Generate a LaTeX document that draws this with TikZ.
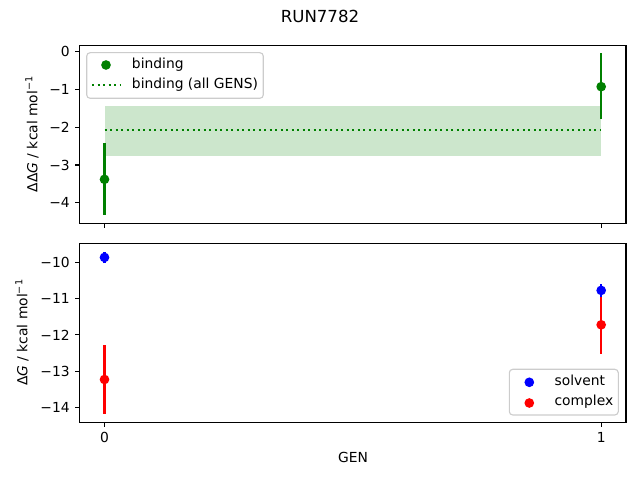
\documentclass[tikz,border=0pt]{standalone}
\usepackage{fontspec}
\setmainfont{DejaVu Sans}
\definecolor{mplgreen}{RGB}{0, 128, 0}
\definecolor{mplblue}{RGB}{0, 0, 255}
\definecolor{mplred}{RGB}{255, 0, 0}
\definecolor{legendedge}{RGB}{204, 204, 204}
\usepackage{tikz}

\begin{document}
\begin{tikzpicture}[x=0.01in, y=-0.01in, font=\fontsize{10}{12}\selectfont,
  errbar/.style={line width=1.5pt},
  tickmark/.style={line width=0.8pt},
  ticklab/.style={inner sep=0pt},
  dot/.style={radius=3.5pt},
  legendbox/.style={draw=legendedge, line width=0.8pt, fill=white, fill opacity=0.8, rounded corners=2.5pt}]
  \useasboundingbox (0,0) rectangle (640,480);

  % Title
  \node[font=\fontsize{12}{14}\selectfont] (title) at (320,16) {RUN7782};

  % Top panel: binding
  \begin{scope}[shift={(104.5,51.5)}, x=4.964in, y=0.378in]
    \fill[mplgreen, fill opacity=0.2] (0,-2.76) rectangle (1,-1.44);
    \draw[mplgreen, line width=1.5pt, dash pattern=on 1.5pt off 2.475pt] (0,-2.08) -- (1,-2.08);
    \draw[errbar, mplgreen] (0,-4.32) -- (0,-2.42);
    \draw[errbar, mplgreen] (1,-1.78) -- (1,-0.05);
    \fill[mplgreen, dot] (0,-3.38) circle;
    \fill[mplgreen, dot] (1,-0.93) circle;
    \draw[line width=0.8pt] (-0.05,-4.54) rectangle (1.05,0.17);
    \foreach \v/\lab [count=\k] in {0/0,-1/−1,-2/−2,-3/−3,-4/−4} {
      \draw[tickmark] (-0.05,\v) -- ++(-3.5pt,0);
      \node[ticklab, left=7pt] (ta\k) at (-0.05,\v) {\lab};
    }
    \foreach \g in {0,1}
      \draw[tickmark] (\g,-4.54) -- ++(0,-3.5pt);
  \end{scope}
  \node[rotate=90] (ylaba) at (32,134) {ΔΔ\textit{G} / kcal mol\textsuperscript{−1}};

  % Legend (top)
  \draw[legendbox] (86.7,52.7) rectangle (263.3,98.3);
  \fill[mplgreen, dot] (106,65) circle;
  \draw[mplgreen, line width=1.5pt, dash pattern=on 1.5pt off 2.475pt] (92,85) -- (120,85);
  \node[anchor=base west, inner sep=0pt] (lega1) at (131.7,69) {binding};
  \node[anchor=base west, inner sep=0pt] (lega2) at (131.7,89) {binding (all GENS)};

  % Bottom panel: solvent and complex
  \begin{scope}[shift={(104.5,-99.7)}, x=4.964in, y=0.362in]
    \draw[errbar, mplred] (0,-14.17) -- (0,-12.29);
    \draw[errbar, mplred] (1,-12.52) -- (1,-10.92);
    \fill[mplred, dot] (0,-13.23) circle;
    \fill[mplred, dot] (1,-11.72) circle;
    \draw[errbar, mplblue] (0,-10.02) -- (0,-9.70);
    \draw[errbar, mplblue] (1,-10.96) -- (1,-10.58);
    \fill[mplblue, dot] (0,-9.86) circle;
    \fill[mplblue, dot] (1,-10.77) circle;
    \draw[line width=0.8pt] (-0.05,-14.42) rectangle (1.05,-9.475);
    \foreach \v/\lab [count=\k] in {-10/−10,-11/−11,-12/−12,-13/−13,-14/−14} {
      \draw[tickmark] (-0.05,\v) -- ++(-3.5pt,0);
      \node[ticklab, left=7pt] (tb\k) at (-0.05,\v) {\lab};
    }
    \foreach \g [count=\k] in {0,1} {
      \draw[tickmark] (\g,-14.42) -- ++(0,-3.5pt);
      \node[ticklab, below=7pt] (tx\k) at (\g,-14.42) {\g};
    }
  \end{scope}
  \node[rotate=90] (ylabb) at (22,332.5) {Δ\textit{G} / kcal mol\textsuperscript{−1}};
  \node (xlab) at (353,457) {GEN};

  % Legend (bottom)
  \draw[legendbox] (509.3,369.3) rectangle (618.3,415);
  \fill[mplblue, dot] (529.3,382.3) circle;
  \fill[mplred, dot] (529.3,403) circle;
  \node[anchor=base west, inner sep=0pt] (legb1) at (554.3,385.5) {solvent};
  \node[anchor=base west, inner sep=0pt] (legb2) at (554.3,406) {complex};
\end{tikzpicture}
\end{document}
